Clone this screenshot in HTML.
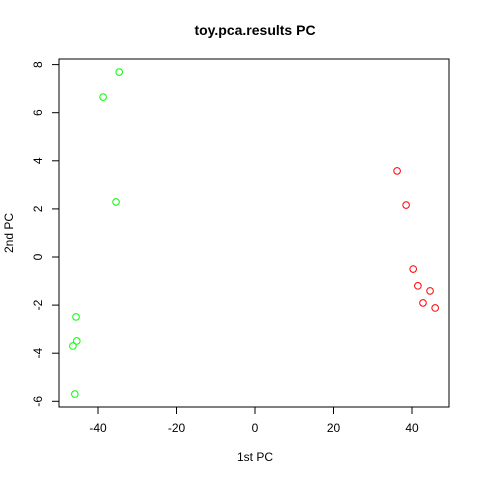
<!DOCTYPE html>
<html><head><meta charset="utf-8"><style>
html,body{margin:0;padding:0;background:#fff;}
svg{display:block;font-family:"Liberation Sans",sans-serif;}
</style></head><body>
<svg id="chart" width="480" height="480">
<text x="255" y="35" text-anchor="middle" font-size="14" font-weight="bold">toy.pca.results PC</text>
<rect x="59" y="59" width="390" height="348" fill="none" stroke="#000"/>
<text x="255" y="461" text-anchor="middle" font-size="12">1st PC</text>
<text transform="translate(13,233) rotate(-90)" text-anchor="middle" font-size="12">2nd PC</text>
<g id="axes"></g><g id="points"></g>
</svg>
<script>
const xTicks=[-40,-20,0,20,40];
const yTicks=[-6,-4,-2,0,2,4,6,8];
const groupAx=[-34.6,-38.7,-35.4,-45.6,-45.4,-46.4,-45.9];
const groupAy=[7.69,6.65,2.29,-2.49,-3.49,-3.70,-5.70];
const groupBx=[36.2,38.5,40.3,41.5,44.6,42.8,45.9];
const groupBy=[3.58,2.16,-0.50,-1.20,-1.41,-1.91,-2.12];
const NS="http://www.w3.org/2000/svg";
function sx(v){return 255+v*3.925;}
function sy(v){return 257-v*24.05;}
const axes=document.getElementById('axes');
function mk(t,a,p){const e=document.createElementNS(NS,t);for(const k in a)e.setAttribute(k,a[k]);p.appendChild(e);return e;}
mk('line',{x1:sx(-40),x2:sx(40),y1:407,y2:407,stroke:'#000'},axes);
xTicks.forEach(v=>{
 const l=mk('line',{x1:sx(v),x2:sx(v),y1:407,y2:414,stroke:'#000'},axes);
 
 
 const t=mk('text',{x:sx(v),y:432,'text-anchor':'middle','font-size':12},axes);t.textContent=v;
 
 
});
mk('line',{x1:59,x2:59,y1:sy(-6),y2:sy(8),stroke:'#000'},axes);
yTicks.forEach(v=>{
 const l=mk('line',{x1:52,x2:59,y1:sy(v),y2:sy(v),stroke:'#000'},axes);
 
 
 const t=mk('text',{'text-anchor':'middle','font-size':12,transform:`translate(42,${sy(v)}) rotate(-90)`},axes);t.textContent=v;
 
 
});
const pts=document.getElementById('points');
groupAx.forEach((x,i)=>{
 const c=mk('circle',{cx:sx(x),cy:sy(groupAy[i]),r:3.3,fill:'none',stroke:'#00ff00'},pts);
 
 
});
groupBx.forEach((x,i)=>{
 const c=mk('circle',{cx:sx(x),cy:sy(groupBy[i]),r:3.3,fill:'none',stroke:'#ff0000'},pts);
 
 
});
</script>
</body></html>
